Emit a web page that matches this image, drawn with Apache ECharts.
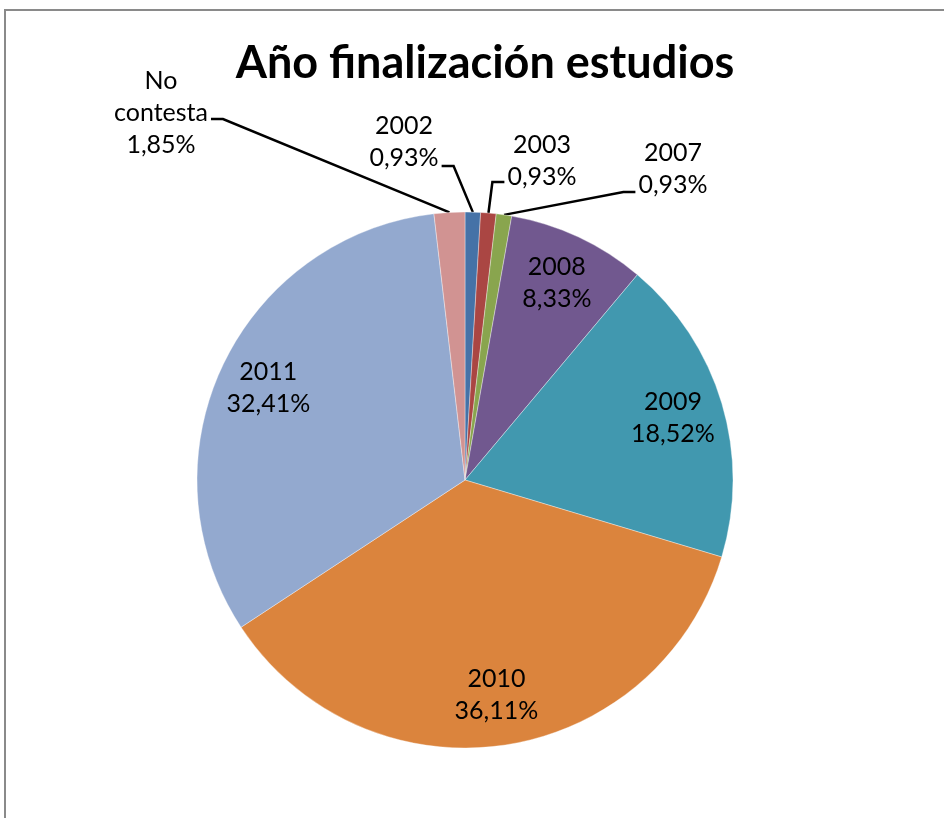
<!DOCTYPE html>
<html>
<head>
<meta charset="utf-8">
<script src="https://cdn.jsdelivr.net/npm/echarts@6/dist/echarts.min.js"></script>
<style>
  html, body { margin: 0; padding: 0; background: #fff; }
  #main { width: 944px; height: 818px; }
</style>
</head>
<body>
<div id="main"></div>
<script>
// datos
const years = ['2002', '2003', '2007', '2008', '2009', '2010', '2011', 'No contesta'];
const percents = [0.93, 0.93, 0.93, 8.33, 18.52, 36.11, 32.41, 1.85];
const colors = ['#4572A7', '#AA4643', '#89A54E', '#71588F', '#4198AF', '#DB843D', '#93A9CF', '#D19392'];

// etiquetas con linea guia (fuera del pastel)
const outerLabels = {
  'No contesta': { x: 161, y: 113, lineY: 119, side: 'right' },
  '2002': { x: 404, y: 142, lineY: 166, side: 'right' },
  '2003': { x: 542, y: 161, lineY: 182, side: 'left' },
  '2007': { x: 673, y: 169, lineY: 192, side: 'left' }
};

const cx = 465, cy = 480, R = 268;
const total = percents.reduce((a, b) => a + b, 0);

// punto del borde en el angulo medio de cada porcion
function edgePoint(i) {
  let before = 0;
  for (let k = 0; k < i; k++) before += percents[k];
  const a = (before + percents[i] / 2) / total * Math.PI * 2;
  return [cx + R * Math.sin(a), cy - R * Math.cos(a)];
}

function fmt(p) {
  return p.name.replace(' ', '\n') + '\n' + p.value.toFixed(2).replace('.', ',') + '%';
}

const font = 'Lato';
const data = years.map((y, i) => ({ name: y, value: percents[i], itemStyle: { color: colors[i] } }));

const chart = echarts.init(document.getElementById('main'));
chart.setOption({
  animation: false,
  title: {
    text: 'Año finalización estudios',
    left: 480, top: 36,
    textAlign: 'center',
    textStyle: { fontFamily: font, fontWeight: 'bold', fontSize: 45, color: '#000' }
  },
  graphic: [{
    type: 'rect',
    shape: { x: 5, y: 10, width: 1200, height: 1200 },
    style: { fill: 'none', stroke: '#8a8a8a', lineWidth: 2 },
    silent: true
  }],
  series: [
    {
      type: 'pie',
      center: [cx, cy],
      radius: R,
      startAngle: 90,
      clockwise: true,
      avoidLabelOverlap: false,
      itemStyle: { borderColor: 'rgba(255,255,255,0.6)', borderWidth: 0.6 },
      label: {
        show: true,
        position: 'outside',
        formatter: fmt,
        fontFamily: font, fontSize: 25, lineHeight: 32, color: '#000'
      },
      labelLine: { show: true, lineStyle: { color: '#000', width: 2.5 } },
      labelLayout: function (p) {
        const cfg = outerLabels[years[p.dataIndex]];
        if (!cfg) return {};
        const w = p.labelRect.width;
        const endX = cfg.side === 'right' ? cfg.x + w / 2 + 3 : cfg.x - w / 2 - 3;
        const elbowX = cfg.side === 'right' ? endX + 12 : endX - 12;
        return {
          x: cfg.x, y: cfg.y, align: 'center', verticalAlign: 'middle',
          labelLinePoints: [edgePoint(p.dataIndex), [elbowX, cfg.lineY], [endX, cfg.lineY]]
        };
      },
      data: data.map(d => outerLabels[d.name] ? d : Object.assign({}, d, { label: { show: false }, labelLine: { show: false } }))
    },
    {
      // serie transparente solo para colocar las etiquetas interiores
      type: 'pie',
      center: [cx, cy],
      radius: [160, R],
      startAngle: 90,
      clockwise: true,
      silent: true,
      itemStyle: { color: 'rgba(0,0,0,0)' },
      label: {
        show: true,
        position: 'inside',
        formatter: fmt,
        fontFamily: font, fontSize: 25, lineHeight: 32, color: '#000'
      },
      labelLine: { show: false },
      data: years.map((y, i) => ({
        name: y, value: percents[i],
        label: { show: !outerLabels[y] }
      }))
    }
  ]
});
</script>
</body>
</html>
